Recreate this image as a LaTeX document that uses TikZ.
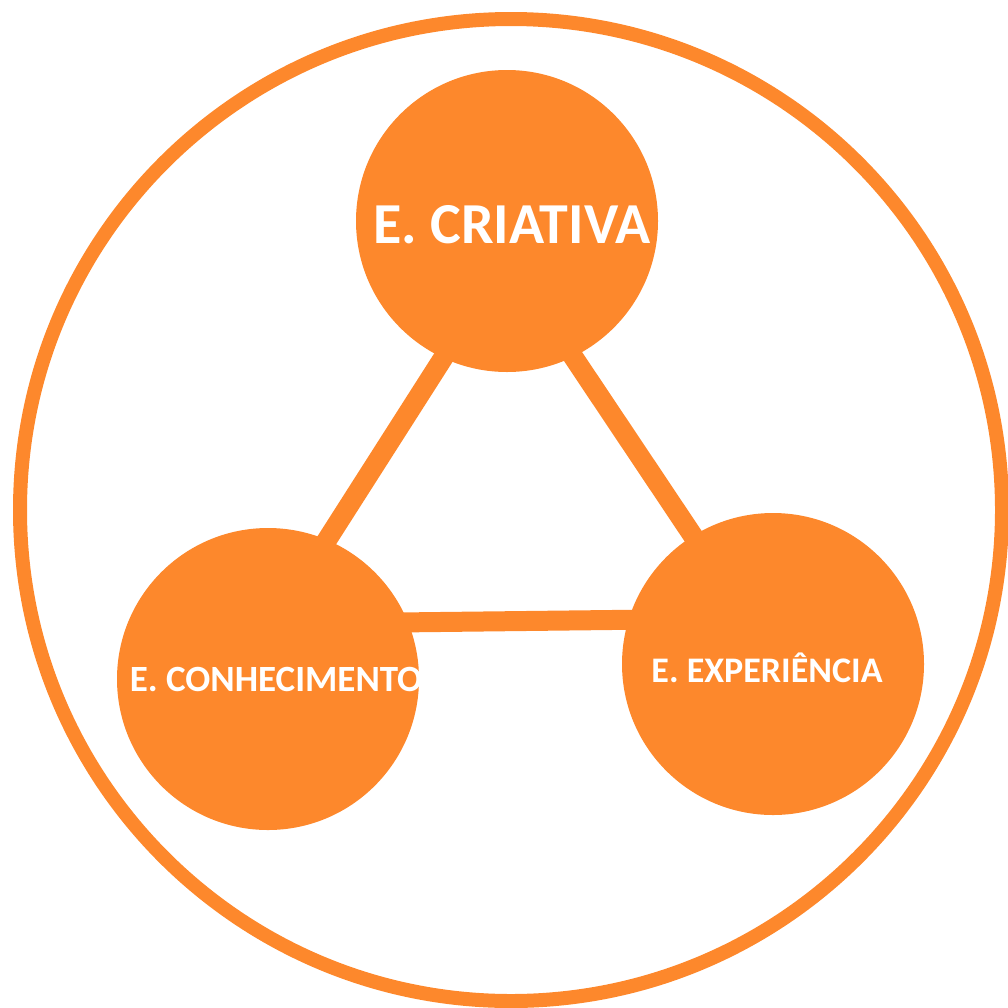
\documentclass[tikz,border=0pt]{standalone}
\usepackage{fontspec}
\setmainfont{Carlito}
\usetikzlibrary{backgrounds}
\definecolor{org}{RGB}{253,136,44}
\begin{document}
\begin{tikzpicture}[x=1pt,y=-1pt,
  ball/.style={circle,fill=org,draw=none,minimum size=302pt,inner sep=0pt},
  lbl/.style={text=white,anchor=base,inner sep=0pt},
  link/.style={draw=org,line width=20pt,shorten <=-14pt,shorten >=-14pt},
  ring/.style={circle,draw=org,line width=14pt,inner sep=0pt}]
\useasboundingbox (0,0) rectangle (1008,1007);
\node[ball] (T) at (507,221) {};
\node[ball] (L) at (268,679) {};
\node[ball] (R) at (773,664) {};
\node[lbl,font=\fontsize{58}{62}\selectfont\bfseries] (tT) at (512,243) {E. CRIATIVA};
\node[lbl,font=\fontsize{37}{40}\selectfont\bfseries] (tL) at (276,691) {E. CONHECIMENTO};
\node[lbl,font=\fontsize{36}{40}\selectfont\bfseries] (tR) at (767,682) {E. EXPERIÊNCIA};
\begin{pgfonlayer}{background}
\draw[link] (T.245) -- (L.67);
\draw[link] (T.296) -- (R.122);
\draw[link] (L.22) -- (R.163);
\end{pgfonlayer}
\node[ring,minimum size=982pt] (O) at (511,510) {};
\end{tikzpicture}
\end{document}
